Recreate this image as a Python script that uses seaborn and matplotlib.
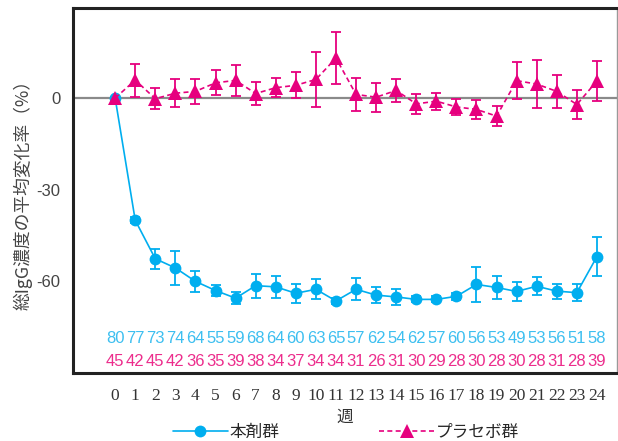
import numpy as np
import pandas as pd
import matplotlib
matplotlib.use("Agg")
import matplotlib.pyplot as plt
import seaborn as sns
from matplotlib.lines import Line2D

# Weeks on study
weeks = list(range(25))

# Mean percent change in total IgG (active drug group) and SE
drug_mean = [0, -40.0, -52.6, -55.6, -60.0, -63.0, -65.5, -61.4, -61.8, -63.9,
             -62.6, -66.4, -62.6, -64.5, -65.1, -65.9, -65.9, -64.9, -61.0, -62.0,
             -63.3, -61.6, -63.2, -63.7, -51.9]
drug_err = [0.5, 1.0, 3.3, 5.6, 3.5, 1.9, 1.9, 3.9, 3.6, 3.2,
            3.3, 1.0, 3.6, 2.6, 2.5, 1.0, 1.0, 1.2, 5.7, 3.8,
            3.0, 3.0, 2.5, 2.7, 6.3]

# Mean percent change in total IgG (placebo group) and SE
placebo_mean = [0, 5.9, -0.2, 1.6, 2.2, 5.0, 5.8, 1.5, 3.4, 4.2,
                6.1, 13.1, 1.2, 0.3, 2.5, -1.9, -1.0, -2.9, -3.7, -5.9,
                5.7, 4.6, 2.2, -2.1, 5.6]
placebo_err = [0.5, 5.4, 3.5, 4.5, 4.1, 4.1, 5.2, 3.7, 3.1, 4.2,
               8.9, 8.4, 5.5, 4.8, 3.8, 3.3, 2.8, 2.7, 3.0, 3.2,
               6.1, 8.0, 5.3, 4.6, 6.4]

# Number of patients at each visit
drug_n = [80, 77, 73, 74, 64, 55, 59, 68, 64, 60, 63, 65, 57, 62, 54, 62, 57,
          60, 56, 53, 49, 53, 56, 51, 58]
placebo_n = [45, 42, 45, 42, 36, 35, 39, 38, 34, 37, 34, 34, 31, 26, 31, 30, 29,
             28, 30, 28, 30, 28, 31, 28, 39]

group_names = ["本剤群", "プラセボ群"]
y_ticks = [0, -30, -60]

BLUE = "#00aeef"
PINK = "#e6007e"
BLUE_TXT = "#3dbff0"
PINK_TXT = "#ec2d8c"

sns.set_theme(style="white")
plt.rcParams["font.family"] = ["Noto Sans CJK JP", "DejaVu Sans"]

df = pd.DataFrame({
    "week": weeks * 2,
    "mean": drug_mean + placebo_mean,
    "group": [group_names[0]] * len(weeks) + [group_names[1]] * len(weeks),
})

fig = plt.figure(figsize=(6.18, 4.41), dpi=100)
ax = fig.add_axes([73 / 618, 1 - 373 / 441, (617 - 73) / 618, (373 - 8) / 441])

ax.axhline(0, color="#8a8a8a", lw=1.6, zorder=1)

# error bars
ax.errorbar(weeks, drug_mean, yerr=drug_err, fmt="none", ecolor=BLUE,
            elinewidth=1.3, capsize=3.5, capthick=1.3, zorder=2)
ax.errorbar(weeks, placebo_mean, yerr=placebo_err, fmt="none", ecolor=PINK,
            elinewidth=1.3, capsize=3.5, capthick=1.3, zorder=2)

sns.lineplot(data=df[df["group"] == group_names[0]], x="week", y="mean", ax=ax,
             color=BLUE, marker="o", markersize=8.5, markeredgewidth=0,
             linewidth=1.2, zorder=3, legend=False)
sns.lineplot(data=df[df["group"] == group_names[1]], x="week", y="mean", ax=ax,
             color=PINK, marker="^", markersize=9.5, markeredgewidth=0,
             linewidth=1.2, dashes=(3, 2), zorder=3, legend=False)

# patient counts
for w, a, b in zip(weeks, drug_n, placebo_n):
    ax.text(w, -78.7, str(a), ha="center", va="center", color=BLUE_TXT,
            fontsize=12, family="Liberation Sans")
    ax.text(w, -86.2, str(b), ha="center", va="center", color=PINK_TXT,
            fontsize=12, family="Liberation Sans")

ax.set_xlim(-2.1, 25)
ax.set_ylim(-90, 29.5)
ax.set_xticks(weeks)
ax.set_xticklabels([str(w) for w in weeks], family="Liberation Serif",
                   fontsize=12.5, color="#333333")
ax.set_yticks(y_ticks)
ax.set_yticklabels([str(t) for t in y_ticks], family="Liberation Sans",
                   fontsize=12, color="#444444")
ax.tick_params(axis="x", direction="out", length=5, width=1.3, color="#222222", pad=6)
ax.tick_params(axis="y", direction="out", length=5, width=1.3, color="#222222", pad=4)

for side in ["left", "top", "bottom"]:
    ax.spines[side].set_color("#222222")
    ax.spines[side].set_linewidth(2.2)
ax.spines["right"].set_color("#999999")
ax.spines["right"].set_linewidth(1.0)

ax.set_xlabel("週", fontsize=12, color="#333333", labelpad=3)
ax.set_ylabel("総IgG濃度の平均変化率（%）", fontsize=12.8, color="#444444", labelpad=3)

handles = [
    Line2D([], [], color=BLUE, marker="o", markersize=8.5, markeredgewidth=0, lw=1.2),
    Line2D([], [], color=PINK, marker="^", markersize=9.5, markeredgewidth=0, lw=1.2,
           dashes=(3, 2)),
]
fig.legend(handles, group_names, loc="center", bbox_to_anchor=(0.56, 0.02),
           ncol=2, frameon=False, fontsize=12, handlelength=3.3,
           columnspacing=6.0, handletextpad=0.1)

fig.savefig("out.png", dpi=100)
